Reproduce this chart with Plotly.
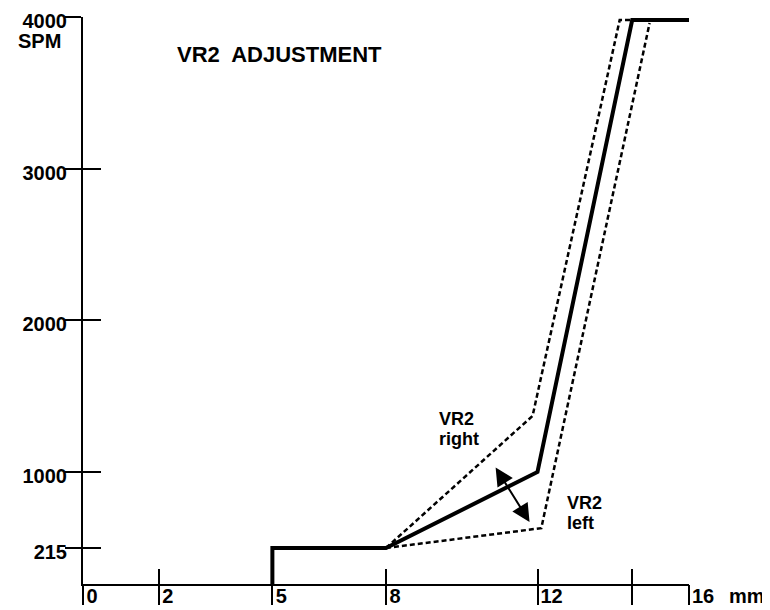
import numpy as np
import plotly.graph_objects as go

# VR2 adjustment curve: travel (mm) vs speed (SPM)
solid_mm = [5, 5, 8, 12, 14.5, 16]
solid_spm = [0, 215, 215, 1000, 3980, 3980]

right_mm = [8, 11.87, 14.17, 14.5]      # "VR2 right" limit
right_spm = [215, 1370, 3980, 3980]

left_mm = [8, 12.1, 14.96]              # "VR2 left" limit
left_spm = [215, 420, 3960]

x_ticks = [0, 2, 5, 8, 12, 14.5, 16]
x_ticktext = ["0", "2", "5", "8", "\u200212", "", "\u200216"]
y_ticks = [215, 1000, 2000, 3000, 4000]
y_ticktext = ["215", "1000", "2000", "3000", "4000"]

# the original drawing uses a schematic (non-uniform) SPM axis below 1000
SPM_KNOTS = [0, 215, 1000, 4000]
AXIS_KNOTS = [0, 36, 112, 567]


def to_axis(v):
    return np.interp(v, SPM_KNOTS, AXIS_KNOTS)


FONT = "Liberation Sans, Arial, sans-serif"


def bold(s):
    return "<b>" + s + "</b>"


fig = go.Figure()
fig.add_trace(go.Scatter(x=right_mm, y=to_axis(right_spm), mode="lines",
                         line=dict(color="black", width=2.5, dash="5px,3px")))
fig.add_trace(go.Scatter(x=left_mm, y=to_axis(left_spm), mode="lines",
                         line=dict(color="black", width=2.5, dash="5px,3px")))
fig.add_trace(go.Scatter(x=solid_mm, y=to_axis(solid_spm), mode="lines",
                         line=dict(color="black", width=4)))

# double-headed adjustment arrow
fig.add_annotation(x=11.79, y=to_axis(484), ax=10.87, ay=to_axis(1040),
                   xref="x", yref="y", axref="x", ayref="y", text="",
                   showarrow=True, arrowhead=2, startarrowhead=2,
                   arrowside="end+start", arrowsize=1.8, startarrowsize=1.8,
                   arrowwidth=2, arrowcolor="black")

fig.add_annotation(x=2.43, y=to_axis(3755), xref="x", yref="y",
                   text=bold("VR2  ADJUSTMENT"), xanchor="left", showarrow=False,
                   font=dict(family=FONT, size=22, color="black"))

labels = [
    ("VR2", 9.34, 1349),
    ("right", 9.34, 1218),
    ("VR2", 12.72, 680),
    ("left", 12.72, 473),
]
for txt, xm, ys in labels:
    fig.add_annotation(x=xm, y=to_axis(ys), xref="x", yref="y", text=bold(txt),
                       xanchor="left", showarrow=False,
                       font=dict(family=FONT, size=18, color="black"))

fig.add_annotation(x=0, y=to_axis(4000), xref="paper", yref="y", text=bold("SPM"),
                   xanchor="right", xshift=-20, yshift=-24, showarrow=False,
                   font=dict(family=FONT, size=20, color="black"))
fig.add_annotation(x=16, y=0, xref="x", yref="paper", text=bold("mm"),
                   xanchor="left", yanchor="middle", xshift=38, yshift=-12,
                   showarrow=False, font=dict(family=FONT, size=20, color="black"))

axis_common = dict(showgrid=False, zeroline=False, tickcolor="black", tickwidth=2,
                   automargin=False, ticklabeloverflow="allow")
tick_font = dict(family=FONT, size=20, color="black", weight="bold")

fig.update_layout(
    width=762, height=602,
    margin=dict(l=75, r=81, t=9, b=26),
    plot_bgcolor="white", paper_bgcolor="white",
    showlegend=False,
    font=dict(family=FONT, size=20, color="black"),
    xaxis=dict(range=[0, 16], tickvals=x_ticks, ticktext=x_ticktext,
               ticks="inside", ticklen=15, ticklabelshift=9, ticklabelstandoff=-7,
               tickfont=tick_font,
               showline=True, linecolor="black", linewidth=2, **axis_common),
    xaxis2=dict(range=[0, 16], overlaying="x", anchor="y", side="bottom",
                tickvals=x_ticks, ticks="outside", ticklen=20,
                showticklabels=False, **axis_common),
    yaxis=dict(range=[0, 567], tickvals=to_axis(y_ticks), ticktext=y_ticktext,
               ticks="outside", ticklen=16, ticklabelstandoff=-6, ticklabelshift=4,
               tickfont=tick_font,
               showline=True, linecolor="black", linewidth=2, **axis_common),
    yaxis2=dict(range=[0, 567], overlaying="y", anchor="x", side="left",
                tickvals=to_axis(y_ticks), ticks="inside", ticklen=18,
                showticklabels=False, **axis_common),
)
# dummy trace so the overlay axes are drawn
fig.add_trace(go.Scatter(x=[None], y=[None], xaxis="x2", yaxis="y2", showlegend=False))

fig.write_html("out.html")
